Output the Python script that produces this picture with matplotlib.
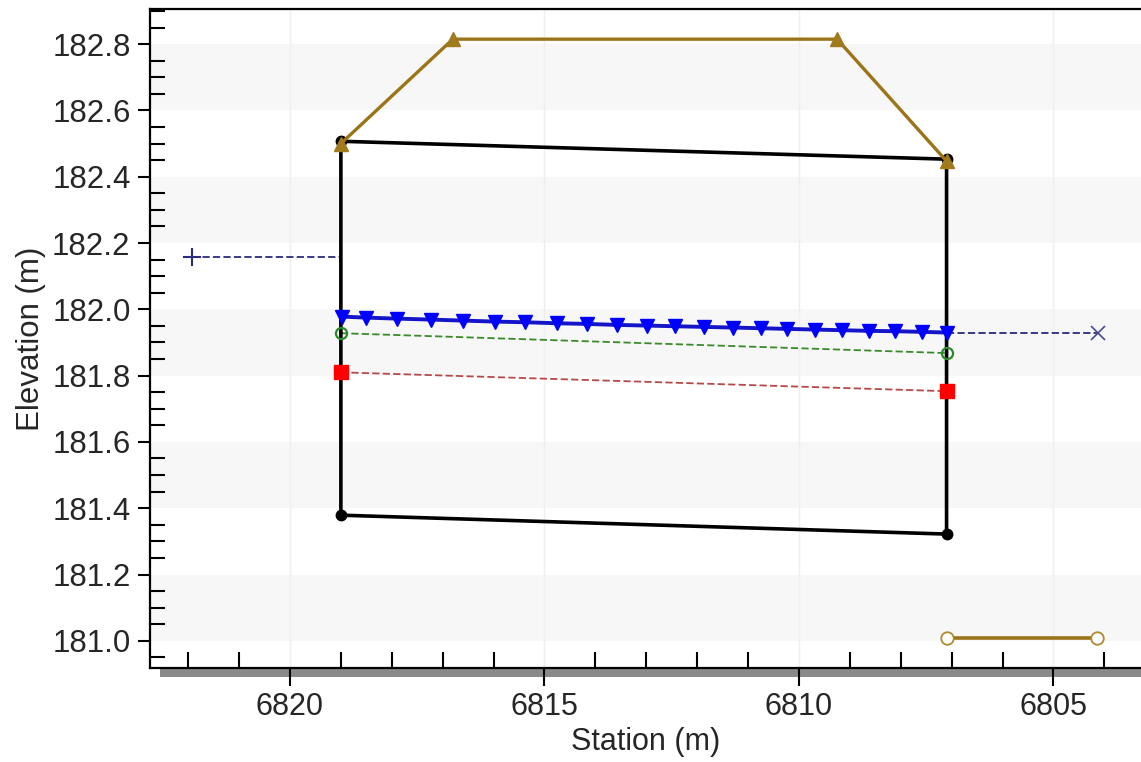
import matplotlib
matplotlib.use("Agg")
import matplotlib.pyplot as plt
from matplotlib.ticker import MultipleLocator, FormatStrFormatter
from matplotlib.patches import Rectangle

plt.rcParams['font.family'] = ['Liberation Sans', 'DejaVu Sans']

# ---- data ----
culvert_x = [6819.0, 6807.1, 6807.1, 6819.0, 6819.0]
culvert_y = [182.507, 182.453, 181.322, 181.379, 182.507]

road_x = [6819.0, 6816.8, 6809.25, 6807.1]
road_y = [182.50, 182.815, 182.815, 182.447]

ground_x = [6807.1, 6804.15]
ground_y = [181.01, 181.01]

us_ws_x = [6821.93, 6819.0]
us_ws_y = [182.157, 182.157]

ds_ws_x = [6807.1, 6804.13]
ds_ws_y = [181.928, 181.928]

hgl_x = [6818.97, 6818.51, 6817.90, 6817.22, 6816.60, 6815.97, 6815.38,
         6814.76, 6814.17, 6813.58, 6812.99, 6812.44, 6811.87, 6811.29,
         6810.75, 6810.23, 6809.69, 6809.16, 6808.62, 6808.11, 6807.59,
         6807.10]
hgl_y = [181.978, 181.975, 181.972, 181.969, 181.966, 181.963, 181.961,
         181.958, 181.956, 181.953, 181.951, 181.949, 181.947, 181.945,
         181.943, 181.941, 181.939, 181.937, 181.935, 181.934, 181.932,
         181.930]

crit_x = [6819.0, 6807.1]
crit_y = [181.928, 181.868]

norm_x = [6819.0, 6807.1]
norm_y = [181.81, 181.753]

band_edges = [181.0, 181.4, 181.8, 182.2, 182.6]
xmajor = [6820, 6815, 6810, 6805]

# ---- figure ----
fig = plt.figure(figsize=(11.41, 7.62), dpi=100)
ax = fig.add_axes([150/1141, 1 - 668/762, 1 - 150/1141, (668 - 9)/762])

ax.set_xlim(6822.75, 6803.28)
ax.set_ylim(180.918, 182.906)

for b in band_edges:
    ax.axhspan(b, b + 0.2, color='#f7f7f7', zorder=0, lw=0)
for xv in xmajor:
    ax.axvline(xv, color='#efefef', lw=1, zorder=0.5)

dash = (4, 1.8)
ax.plot(us_ws_x, us_ws_y, color='#2a2a80', lw=1.3, dashes=dash, zorder=3)
ax.plot(us_ws_x[:1], us_ws_y[:1], marker='+', ms=13, mew=1.5, color='#2a2a80', ls='none', zorder=3)
ax.plot(ds_ws_x, ds_ws_y, color='#2a2a80', lw=1.3, dashes=dash, zorder=3)
ax.plot(ds_ws_x[-1:], ds_ws_y[-1:], marker='x', ms=10, mew=1.2, color='#4a4a90', ls='none', zorder=3)

ax.plot(norm_x, norm_y, color='#b84848', lw=1.3, dashes=dash, zorder=3)
ax.plot(norm_x, norm_y, marker='s', ms=10, color='#ff0000', ls='none', zorder=5)

ax.plot(crit_x, crit_y, color='#3a8a2a', lw=1.3, dashes=dash, zorder=3)
ax.plot(crit_x, crit_y, marker='o', ms=8, mfc='none', mec='#2a8a2a', mew=1.6, ls='none', zorder=5)

ax.plot(culvert_x, culvert_y, color='black', lw=2.6, zorder=4)
ax.plot(culvert_x[:4], culvert_y[:4], marker='o', ms=7.5, color='black', ls='none', zorder=4)

ax.plot(road_x, road_y, color='#9c7418', lw=2.4, marker='^', ms=10,
        mfc='#a07a1c', mec='#a07a1c', zorder=6)

ax.plot(ground_x, ground_y, color='#9c7418', lw=2.6, marker='o', ms=9,
        mfc='white', mec='#b08a30', mew=1.3, zorder=4)

ax.plot(hgl_x, hgl_y, color='#1414c8', lw=2.8, marker='v', ms=10,
        mfc='#0000ff', mec='#0000ff', zorder=6)

# ---- axes styling ----
for s in ['left', 'bottom', 'top']:
    ax.spines[s].set_linewidth(1.6)
    ax.spines[s].set_color('black')
ax.spines['right'].set_visible(False)

ax.xaxis.set_major_locator(MultipleLocator(5))
ax.xaxis.set_minor_locator(MultipleLocator(1))
ax.yaxis.set_major_locator(MultipleLocator(0.2))
ax.yaxis.set_minor_locator(MultipleLocator(0.05))
ax.yaxis.set_major_formatter(FormatStrFormatter('%.1f'))
ax.xaxis.set_major_formatter(FormatStrFormatter('%d'))

ax.tick_params(axis='y', which='major', direction='out', length=9, width=1.5,
               labelsize=22.5, pad=5, labelcolor='#262626')
ax.tick_params(axis='y', which='minor', direction='in', length=11, width=1.5)
ax.tick_params(axis='x', which='major', direction='out', length=13, width=1.5,
               labelsize=22, pad=4, labelcolor='#262626')
ax.tick_params(axis='x', which='minor', direction='in', length=11.5, width=1.5)

ax.set_xlabel('Station (m)', fontsize=22, color='#262626', labelpad=4)
ax.set_ylabel('Elevation (m)', fontsize=22.5, color='#262626', labelpad=4)

# shadow under x axis
fig.patches.append(Rectangle((160/1141, 1 - 677/762), 1 - 160/1141, 8/762,
                             transform=fig.transFigure, color='#8a8a8a',
                             zorder=-1, lw=0))

fig.savefig('out.png', dpi=100)
